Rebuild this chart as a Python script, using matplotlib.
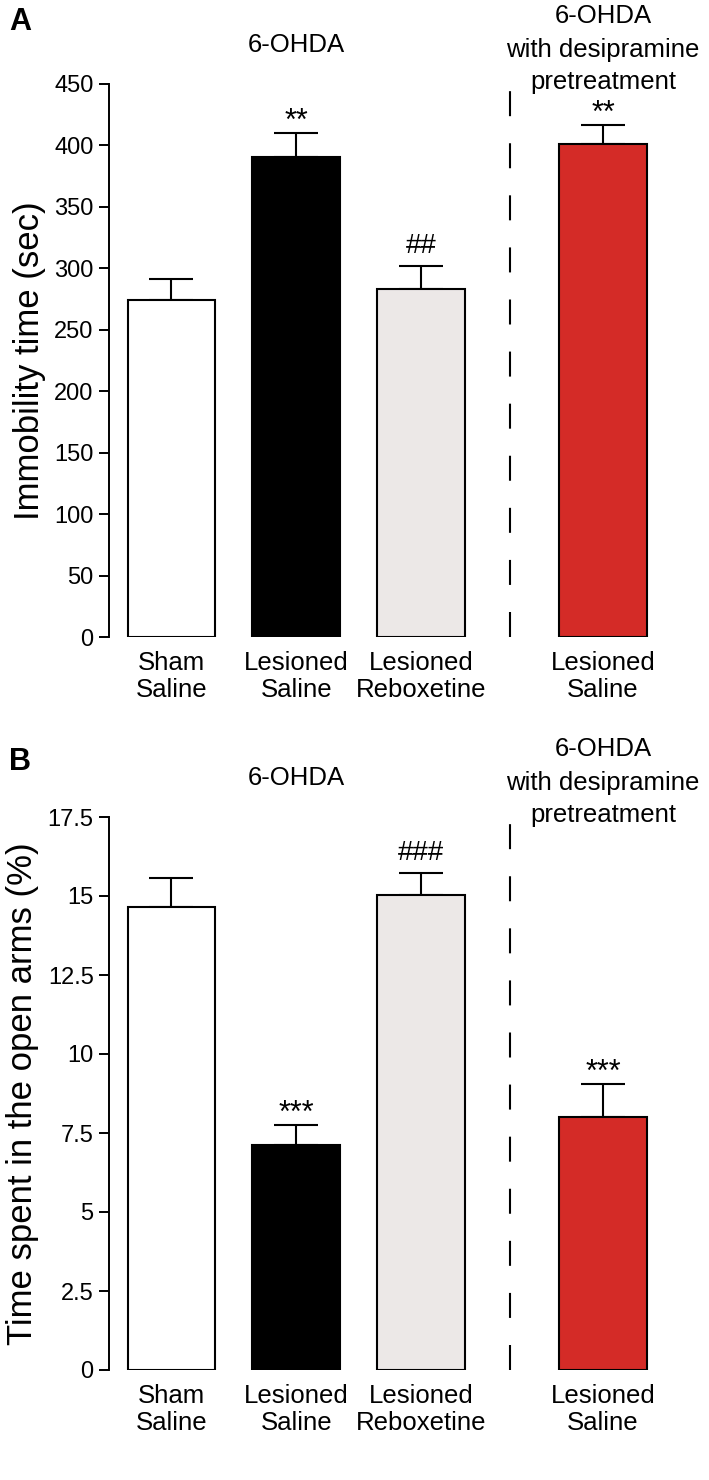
import matplotlib
matplotlib.use("Agg")
import matplotlib.pyplot as plt
import numpy as np

plt.rcParams['font.family'] = ['Liberation Sans', 'DejaVu Sans']
plt.rcParams['lines.scale_dashes'] = False

# ---- data ----
categories = ["Sham\nSaline", "Lesioned\nSaline", "Lesioned\nReboxetine", "Lesioned\nSaline"]
bar_colors = ["#FFFFFF", "#000000", "#ECE8E7", "#D42B27"]
x_pos = [0, 1, 2, 3.46]
separator_x = 2.71

immobility_mean = [274, 391, 283, 401]
immobility_sem = [17, 19, 19, 15.5]
immobility_sig = ["", "**", "##", "**"]
immobility_ticks = [0, 50, 100, 150, 200, 250, 300, 350, 400, 450]

openarms_mean = [14.65, 7.12, 15.03, 8.0]
openarms_sem = [0.92, 0.63, 0.7, 1.05]
openarms_sig = ["", "***", "###", "***"]
openarms_ticks = [0, 2.5, 5, 7.5, 10, 12.5, 15, 17.5]
openarms_ticklabels = ["0", "2.5", "5", "7.5", "10", "12.5", "15", "17.5"]

fig = plt.figure(figsize=(7.09, 14.8), dpi=100)

W, H = 709, 1480
def axes_rect(top_px, bottom_px, left_px=109, right_px=670.5):
    return [left_px / W, 1 - bottom_px / H, (right_px - left_px) / W, (bottom_px - top_px) / H]

def draw_panel(ax, means, sems, sigs, ticks, ticklabels, ymax, ylabel):
    ax.errorbar(x_pos, means, yerr=[np.zeros(len(sems)), sems], fmt='none',
                ecolor='black', elinewidth=1.5, capsize=16, capthick=1.5, zorder=1)
    ax.bar(x_pos, means, width=0.7, color=bar_colors, edgecolor='black',
           linewidth=1.5, zorder=2)
    for xp, m, s, t in zip(x_pos, means, sems, sigs):
        if t:
            if t.startswith('*'):
                fs, dy = 22, 2.5
            else:
                fs, dy = 20, 9.5
            ax.annotate(t, xy=(xp, m + s), xytext=(0, dy), textcoords='offset points',
                        ha='center', va='baseline', fontsize=fs)
    for sp in ['top', 'right', 'bottom']:
        ax.spines[sp].set_visible(False)
    ax.spines['left'].set_linewidth(1.4)
    ax.set_xlim(-0.5, 4.0)
    ax.set_ylim(0, ymax)
    ax.set_yticks(ticks)
    ax.set_yticklabels(ticklabels)
    ax.set_xticks(x_pos)
    ax.set_xticklabels(categories, linespacing=1.15)
    ax.tick_params(axis='x', length=0, pad=10, labelsize=18.5)
    ax.tick_params(axis='y', length=7, width=1.4, pad=4, direction='out', labelsize=17)
    ax.set_ylabel(ylabel, fontsize=25, labelpad=6)
    ax.patch.set_alpha(0)
    # separator
    ax.axvline(separator_x, ymin=0, ymax=1, color='black', linewidth=1.5,
               dashes=(18, 19.5), dash_capstyle='butt', zorder=0)
    # group headers
    trans = ax.get_xaxis_transform()
    ax.annotate("6-OHDA", xy=(1, 1), xycoords=trans, xytext=(0, 28),
                textcoords='offset points', ha='center', va='center', fontsize=18.5)
    for txt, dy in [("6-OHDA", 49), ("with desipramine", 24.5), ("pretreatment", 1.5)]:
        ax.annotate(txt, xy=(x_pos[3], 1), xycoords=trans, xytext=(0, dy),
                    textcoords='offset points', ha='center', va='center', fontsize=18.5)

axA = fig.add_axes(axes_rect(84, 637))
draw_panel(axA, immobility_mean, immobility_sem, immobility_sig, immobility_ticks,
           [str(t) for t in immobility_ticks], 450, "Immobility time (sec)")

axB = fig.add_axes(axes_rect(817, 1370))
draw_panel(axB, openarms_mean, openarms_sem, openarms_sig, openarms_ticks,
           openarms_ticklabels, 17.5, "Time spent in the open arms (%)")

fig.text(9 / W, 1 - 22 / H, "A", fontsize=22, fontweight='bold', ha='left', va='center')
fig.text(9 / W, 1 - 762 / H, "B", fontsize=22, fontweight='bold', ha='left', va='center')

fig.savefig("out.png", dpi=100)
